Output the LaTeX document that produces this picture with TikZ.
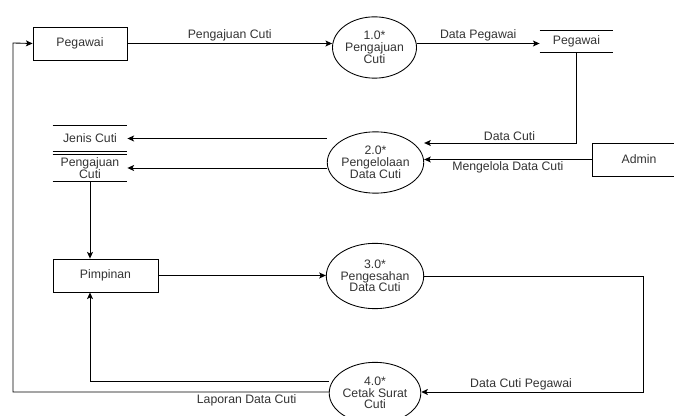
\documentclass[tikz,border=0pt]{standalone}
\usepackage{fontspec}
\setmainfont{Liberation Sans}
\usetikzlibrary{positioning,arrows.meta,calc,shapes.geometric}
\definecolor{ink}{HTML}{333333}
\tikzset{
  entity/.style={draw, text=ink, minimum width=70.5pt, minimum height=24.75pt, inner sep=0pt},
  proc/.style={draw, ellipse, text=ink, align=center, minimum width=63pt, minimum height=46pt, inner sep=0pt},
  store/.style={text=ink, align=center, minimum width=55.5pt, minimum height=18.75pt, inner sep=0pt,
    append after command={(\tikzlastnode.north west) edge[-] (\tikzlastnode.north east)
      (\tikzlastnode.south west) edge[-] (\tikzlastnode.south east)}},
  flow/.style={-{Stealth[length=5pt,width=4.5pt,inset=1.2pt]}},
  lbl/.style={text=ink, inner sep=1.5pt}
}

\begin{document}
\begin{tikzpicture}[x=0.75pt,y=-0.75pt,line width=0.65pt,font=\fontsize{9.2}{8.8}\selectfont]
\useasboundingbox (0,0) rectangle (674,416);
% entities
\node[entity] (peg) at (80,43.5) {Pegawai};
\node[entity] (admin) at (639,159.5) {Admin};
\node[entity, minimum width=78.75pt] (pim) at (105.5,275.5) {Pimpinan};
% processes
\node[proc] (p1) at (374.5,47.5) {1.0*\\Pengajuan\\Cuti};
\node[proc] (p2) at (375.5,162.5) {2.0*\\Pengelolaan\\Data Cuti};
\node[proc, minimum height=49pt] (p3) at (375,276) {3.0*\\Pengesahan\\Data Cuti};
\node[proc] (p4) at (375,393) {4.0*\\Cetak Surat\\Cuti};
% data stores
\node[store, minimum width=54.75pt, minimum height=15.75pt] (dsPeg) at (576.5,41.5) {Pegawai};
\node[store] (dsJenis) at (90,138.5) {Jenis Cuti};
\node[store, minimum height=19.5pt] (dsAju) at (90,168) {Pengajuan\\Cuti};
% bends
\coordinate (turnR) at (643,392);
\coordinate (turnL) at (13,43);

% flows
\draw[flow] (peg.east) -- (peg.east -| p1.west) node[lbl, midway, above] {Pengajuan Cuti};
\draw[flow] (p1.east |- peg.east) -- (dsPeg.west |- peg.east) node[lbl, midway, above] {Data Pegawai};
\draw[flow] (dsPeg.south) |- ($(p2.east)+(0,-19.5)$) node[lbl, pos=0.72, above] {Data Cuti};
\draw[flow] (admin.west) -- (admin.west -| p2.east) node[lbl, midway, below] {Mengelola Data Cuti};
\draw[flow] (p2.west |- dsJenis.east) -- (dsJenis.east);
\draw[flow] (p2.west |- dsAju.east) -- (dsAju.east);
\draw[flow] (dsAju.south) -- (dsAju.south |- pim.north);
\draw[flow] (pim.east) -- (pim.east -| p3.west);
\draw[flow] (p3.east) -| (turnR) -- (turnR -| p4.east) node[lbl, pos=0.55, above] {Data Cuti Pegawai};
\draw[flow] ($(p4.west)+(0,-12)$) -| (dsAju.south |- pim.south);
\draw[flow] (p4.west |- turnR) -| (turnL) -- (peg.west);
\node[lbl, below] at ($(p4.west |- turnR)!0.26!(turnL |- turnR)$) {Laporan Data Cuti};
\end{tikzpicture}
\end{document}
